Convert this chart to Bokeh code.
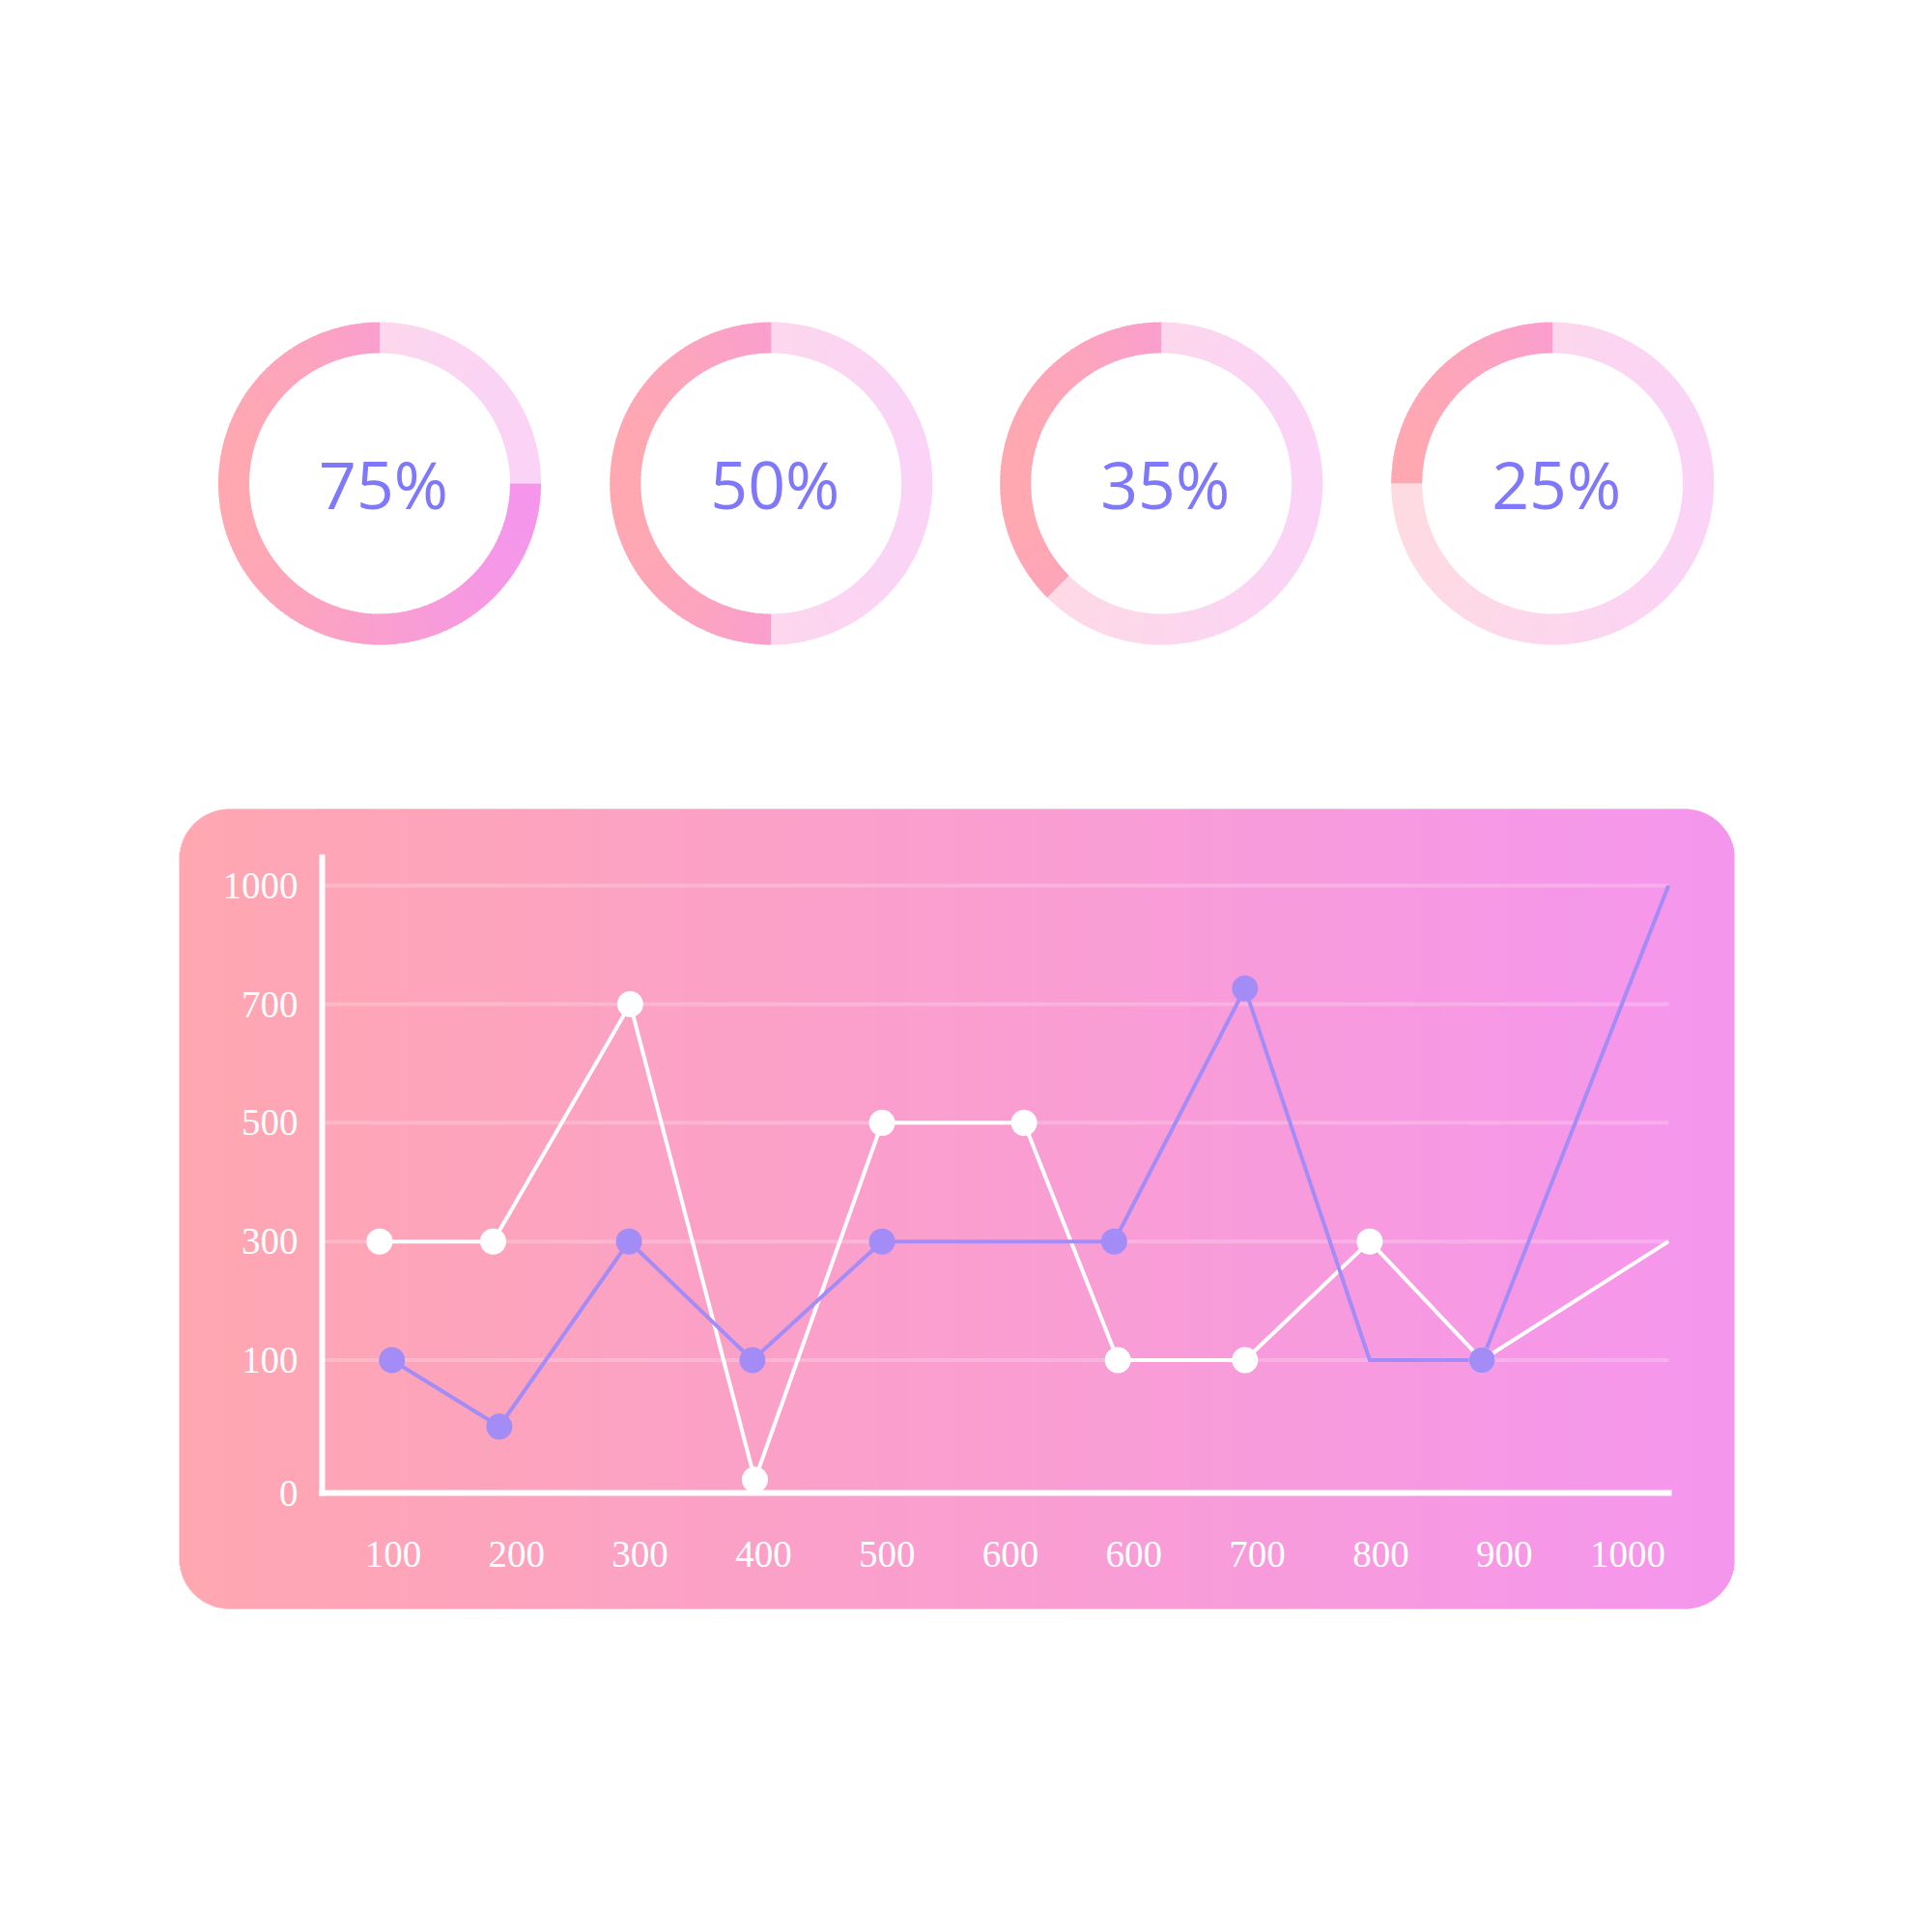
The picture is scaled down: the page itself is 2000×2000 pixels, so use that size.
import numpy as np
from bokeh.plotting import figure
from bokeh.models import Range1d, FixedTicker
from bokeh.core.properties import value
from bokeh.embed import file_html
from bokeh.resources import INLINE

# ---------------- data ----------------
donut_pcts = [75, 50, 35, 25]
donut_labels = [f"{v}%" for v in donut_pcts]
donut_arc_pcts = [75, 50, 37.5, 25]   # arc lengths as drawn in the picture

x_tick_values = [100, 200, 300, 400, 500, 600, 700, 800, 900, 1000, 1100]
x_tick_labels = ["100", "200", "300", "400", "500", "600", "600", "700", "800", "900", "1000"]
y_tick_values = [0, 100, 300, 500, 700, 1000]
y_tick_labels = ["0", "100", "300", "500", "700", "1000"]

white_x = [89, 181, 292, 393, 496, 611, 687, 790, 891, 982, 1133]
white_y = [300, 300, 700, 10, 500, 500, 100, 100, 300, 100, 300]
white_marked = [1, 1, 1, 1, 1, 1, 1, 1, 1, 1, 0]

purple_x = [99, 186, 291, 391, 496, 684, 790, 891, 982, 1133]
purple_y = [100, 50, 300, 100, 300, 300, 740, 100, 100, 1000]
purple_marked = [1, 1, 1, 1, 1, 1, 1, 0, 1, 0]

# ---------------- layout / style ----------------
W = H = 2000
X_PAGE_AT_100 = 406.5      # page x of the first x tick
X_PX_PER_UNIT = 1.278
Y_PAGE_AT_0 = 1545.0       # page y (from top) of the baseline
Y_PX_PER_UNIT = 1.228
Y_TICK_POS = [0, 112, 212, 312, 412, 512]   # visual positions of the y ticks

AXIS_X_PAGE = 333.0
AXIS_RIGHT_PAGE = 1727.0
AXIS_TOP_PAGE = 887.0

DONUT_CX = [392.5, 797.8, 1201.7, 1606.7]
DONUT_CY = 500.0
R_OUT, R_IN = 167.0, 135.0

PANEL_L, PANEL_R, PANEL_T, PANEL_B, PANEL_RAD = 185.0, 1795.0, 837.0, 1665.0, 52.0

PANEL_LEFT_C, PANEL_RIGHT_C = "#ffa7b1", "#f596ee"
FILL_LEFT_C, FILL_RIGHT_C = "#ffa8b1", "#f596ec"
TRACK_LEFT_C, TRACK_RIGHT_C = "#fedbe3", "#fad3f6"
PURPLE = "#a48cf7"
TEXT_PURPLE = "#7f78fa"


def hex_to_rgb(h):
    h = h.lstrip("#")
    return np.array([int(h[i:i + 2], 16) for i in (0, 2, 4)], float)


def lerp_colors(c0, c1, t):
    a, b = hex_to_rgb(c0), hex_to_rgb(c1)
    t = np.clip(np.asarray(t, float), 0, 1)[:, None]
    rgb = np.rint(a + (b - a) * t).astype(int)
    return ["#%02x%02x%02x" % tuple(v) for v in rgb]


def xunit(page_x):
    return 100 + (page_x - X_PAGE_AT_100) / X_PX_PER_UNIT


def yunit(page_y):
    return (Y_PAGE_AT_0 - page_y) / Y_PX_PER_UNIT


def ypos(vals):
    return np.interp(vals, y_tick_values, Y_TICK_POS)


x_start = xunit(0)
x_end = xunit(W)
y_start = yunit(H)
y_end = yunit(0)

p = figure(width=W, height=H, x_range=Range1d(x_start, x_end), y_range=Range1d(y_start, y_end),
           output_backend="svg", toolbar_location=None, min_border=0, title=None,
           background_fill_color="white", border_fill_color="white")
p.outline_line_color = None
p.grid.visible = False
p.extra_x_ranges = {"px": Range1d(0, W)}
p.extra_y_ranges = {"py": Range1d(0, H)}

# ---------------- gradient panel (vertical strips, rounded corners) ----------------
xl = np.arange(PANEL_L, PANEL_R, 1.0)
mid = xl + 0.5
d = np.zeros_like(mid)
d = np.where(mid < PANEL_L + PANEL_RAD, PANEL_L + PANEL_RAD - mid, d)
d = np.where(mid > PANEL_R - PANEL_RAD, mid - (PANEL_R - PANEL_RAD), d)
inset = PANEL_RAD - np.sqrt(np.clip(PANEL_RAD ** 2 - d ** 2, 0, None))
tops = H - (PANEL_T + inset)
bottoms = H - (PANEL_B - inset)
panel_colors = lerp_colors(PANEL_LEFT_C, PANEL_RIGHT_C, (mid - PANEL_L) / (PANEL_R - PANEL_L))
p.quad(left=xl, right=np.minimum(xl + 1.6, PANEL_R), top=tops, bottom=bottoms,
       fill_color=panel_colors, line_color=None, x_range_name="px", y_range_name="py")

# ---------------- grid lines ----------------
x_axis_start = xunit(AXIS_X_PAGE)
x_axis_end = xunit(AXIS_RIGHT_PAGE)
grid_pos = Y_TICK_POS[1:]
p.segment(x0=[x_axis_start] * len(grid_pos), x1=[x_axis_end] * len(grid_pos),
          y0=grid_pos, y1=grid_pos, line_color="white", line_alpha=0.22, line_width=4)

# ---------------- series ----------------
wy = ypos(white_y)
py_ = ypos(purple_y)
p.line(white_x, wy, line_color="white", line_width=4, line_join="miter")
p.line(purple_x, py_, line_color=PURPLE, line_width=4, line_join="miter")

wm = np.array(white_marked, bool)
pm = np.array(purple_marked, bool)
p.scatter(np.array(white_x)[wm], wy[wm], size=27, fill_color="white", line_color=None)
p.scatter(np.array(purple_x)[pm], py_[pm], size=27, fill_color=PURPLE, line_color=None)

# ---------------- axes ----------------
p.xaxis.fixed_location = 0
p.xaxis.bounds = (x_axis_start, x_axis_end)
p.xaxis.ticker = FixedTicker(ticks=x_tick_values)
p.xaxis.major_label_overrides = dict(zip(x_tick_values, x_tick_labels))
p.xaxis.major_label_standoff = 50

p.yaxis.fixed_location = x_axis_start
p.yaxis.bounds = (0, yunit(AXIS_TOP_PAGE))
p.yaxis.ticker = FixedTicker(ticks=Y_TICK_POS)
p.yaxis.major_label_overrides = dict(zip(Y_TICK_POS, y_tick_labels))
p.yaxis.major_label_standoff = 25

for ax in (p.xaxis, p.yaxis):
    ax.axis_line_color = "white"
    ax.axis_line_width = 6
    ax.axis_line_cap = "square"
    ax.major_tick_line_color = None
    ax.minor_tick_line_color = None
    ax.major_tick_in = 0
    ax.major_tick_out = 0
    ax.minor_tick_in = 0
    ax.minor_tick_out = 0
    ax.major_label_text_color = "white"
    ax.major_label_text_font = "Liberation Serif"
    ax.major_label_text_font_size = "39px"

# ---------------- donuts ----------------
seg_x, seg_y, seg_s, seg_e, seg_c = [], [], [], [], []
fx, fy, fs, fe, fc = [], [], [], [], []
STEP = np.deg2rad(2.0)
OVER = np.deg2rad(0.6)
for cx, pct in zip(DONUT_CX, donut_arc_pcts):
    a0 = np.pi / 2
    af = a0 + 2 * np.pi * pct / 100.0
    a1 = a0 + 2 * np.pi
    # track
    n = max(1, int(np.ceil((a1 - af) / STEP)))
    edges = np.linspace(af, a1, n + 1)
    m = (edges[:-1] + edges[1:]) / 2
    cols = lerp_colors(TRACK_LEFT_C, TRACK_RIGHT_C, (np.cos(m) + 1) / 2)
    for i in range(n):
        seg_x.append(cx); seg_y.append(H - DONUT_CY)
        seg_s.append(edges[i]); seg_e.append(edges[i + 1] + OVER); seg_c.append(cols[i])
    # filled
    n = max(1, int(np.ceil((af - a0) / STEP)))
    edges = np.linspace(a0, af, n + 1)
    m = (edges[:-1] + edges[1:]) / 2
    cols = lerp_colors(FILL_LEFT_C, FILL_RIGHT_C, (np.cos(m) + 1) / 2)
    for i in range(n):
        fx.append(cx); fy.append(H - DONUT_CY)
        fs.append(edges[i]); fe.append(min(edges[i + 1] + OVER, af)); fc.append(cols[i])

p.annular_wedge(x=seg_x, y=seg_y, inner_radius=R_IN, outer_radius=R_OUT,
                start_angle=seg_s, end_angle=seg_e, fill_color=seg_c, line_color=None,
                x_range_name="px", y_range_name="py")
p.annular_wedge(x=fx, y=fy, inner_radius=R_IN, outer_radius=R_OUT,
                start_angle=fs, end_angle=fe, fill_color=fc, line_color=None,
                x_range_name="px", y_range_name="py")

p.text(x=[c + 4 for c in DONUT_CX], y=[H - DONUT_CY] * 4, text=donut_labels,
       text_font=value("Open Sans"), text_font_size="68px", text_color=TEXT_PURPLE,
       text_align="center", text_baseline="middle", x_range_name="px", y_range_name="py")

open("out.html", "w").write(file_html(p, INLINE))
